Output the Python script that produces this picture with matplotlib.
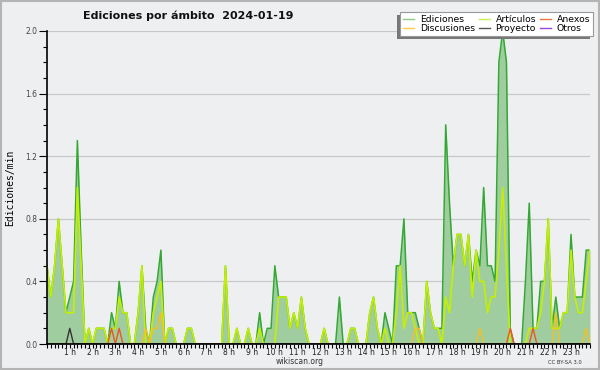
import matplotlib
matplotlib.use("Agg")
import matplotlib.pyplot as plt
import numpy as np
from matplotlib.patches import Rectangle
from matplotlib.ticker import MultipleLocator, FixedLocator

# ================== DATOS (ediciones/min, cada 10 minutos) ==================
ediciones = [
    0.5, 0.3, 0.5, 0.8, 0.5, 0.2, 0.3, 0.4, 1.3, 0.6, 0.0, 0.1,
    0.0, 0.1, 0.1, 0.1, 0.0, 0.2, 0.1, 0.4, 0.2, 0.2, 0.0, 0.0,
    0.2, 0.5, 0.1, 0.0, 0.3, 0.4, 0.6, 0.0, 0.1, 0.1, 0.0, 0.0,
    0.0, 0.1, 0.1, 0.0, 0.0, 0.0, 0.0, 0.0, 0.0, 0.0, 0.0, 0.5,
    0.0, 0.0, 0.1, 0.0, 0.0, 0.1, 0.0, 0.0, 0.2, 0.0, 0.1, 0.1,
    0.5, 0.3, 0.3, 0.3, 0.1, 0.2, 0.1, 0.3, 0.1, 0.0, 0.0, 0.0,
    0.0, 0.1, 0.0, 0.0, 0.0, 0.3, 0.0, 0.0, 0.1, 0.1, 0.0, 0.0,
    0.0, 0.2, 0.3, 0.1, 0.0, 0.2, 0.1, 0.0, 0.5, 0.5, 0.8, 0.2,
    0.2, 0.2, 0.1, 0.0, 0.4, 0.2, 0.1, 0.1, 0.1, 1.4, 0.9, 0.5,
    0.7, 0.7, 0.5, 0.7, 0.4, 0.6, 0.5, 1.0, 0.5, 0.5, 0.4, 1.8,
    2.0, 1.8, 0.1, 0.0, 0.0, 0.0, 0.4, 0.9, 0.1, 0.1, 0.4, 0.4,
    0.8, 0.1, 0.3, 0.1, 0.2, 0.2, 0.7, 0.3, 0.3, 0.3, 0.6, 0.6,
]
articulos = [
    0.5, 0.3, 0.5, 0.8, 0.5, 0.2, 0.2, 0.2, 1.0, 0.5, 0.0, 0.1,
    0.0, 0.1, 0.1, 0.1, 0.0, 0.1, 0.1, 0.3, 0.2, 0.2, 0.0, 0.0,
    0.2, 0.5, 0.0, 0.0, 0.2, 0.3, 0.4, 0.0, 0.1, 0.1, 0.0, 0.0,
    0.0, 0.1, 0.1, 0.0, 0.0, 0.0, 0.0, 0.0, 0.0, 0.0, 0.0, 0.5,
    0.0, 0.0, 0.1, 0.0, 0.0, 0.1, 0.0, 0.0, 0.1, 0.0, 0.0, 0.0,
    0.0, 0.3, 0.3, 0.3, 0.1, 0.2, 0.1, 0.3, 0.1, 0.0, 0.0, 0.0,
    0.0, 0.1, 0.0, 0.0, 0.0, 0.0, 0.0, 0.0, 0.1, 0.1, 0.0, 0.0,
    0.0, 0.2, 0.3, 0.1, 0.0, 0.1, 0.0, 0.0, 0.2, 0.5, 0.1, 0.2,
    0.2, 0.1, 0.0, 0.0, 0.4, 0.2, 0.1, 0.1, 0.0, 0.3, 0.2, 0.5,
    0.7, 0.7, 0.5, 0.7, 0.3, 0.6, 0.4, 0.4, 0.2, 0.3, 0.3, 0.6,
    1.0, 0.5, 0.0, 0.0, 0.0, 0.0, 0.0, 0.1, 0.1, 0.1, 0.2, 0.4,
    0.8, 0.1, 0.1, 0.1, 0.2, 0.2, 0.6, 0.3, 0.2, 0.2, 0.4, 0.6,
]
# series pequeñas: {indice: valor}
anexos_pts = {17: 0.1, 19: 0.1, 122: 0.1, 128: 0.1}
discusiones_pts = {26: 0.1, 28: 0.1, 29: 0.1, 30: 0.2, 97: 0.1, 98: 0.1,
                   114: 0.1, 134: 0.2, 142: 0.1}
proyecto_pts = {6: 0.1}
otros_pts = {}

horas = [f"{h} h" for h in range(1, 24)]
titulo = "Ediciones por ámbito  2024-01-19"
# ===========================================================================

n = len(ediciones)
t = np.arange(n) / 6.0


def serie(pts):
    s = np.zeros(n)
    for k, v in pts.items():
        s[k] = v
    return s


anexos = serie(anexos_pts)
discusiones = serie(discusiones_pts)
proyecto = serie(proyecto_pts)
otros = serie(otros_pts)

bg = '#eeeff1'
fig = plt.figure(figsize=(6, 3.7), dpi=100, facecolor=bg)
ax = fig.add_axes([47/600, 1 - 344/370, 543/600, 313/370])
ax.set_facecolor(bg)

# borde exterior
fig.patches.append(Rectangle((0.001, 0.002), 0.997, 0.995, transform=fig.transFigure,
                             fill=False, edgecolor='#b4b4b4', linewidth=1.5))

ax.grid(True, axis='y', color='#c8c8c8', linewidth=0.9)
ax.set_axisbelow(True)

ax.fill_between(t, ediciones, color='#9fcd9f', linewidth=0, zorder=2)
ax.plot(t, ediciones, color='#33a833', linewidth=1.1, zorder=3, label='Ediciones')
ax.plot(t, articulos, color='#c4f000', linewidth=1.2, zorder=3.2, label='Artículos')
ax.plot(t, anexos, color='#ee5522', linewidth=1.0, zorder=3.3, label='Anexos')
ax.plot(t, discusiones, color='#f5c020', linewidth=1.0, zorder=3.4, label='Discusiones')
ax.plot(t, proyecto, color='#333333', linewidth=1.0, zorder=3.5, label='Proyecto')
ax.plot(t, otros, color='#9933dd', linewidth=1.0, zorder=3.1, label='Otros')

ax.set_xlim(0, t[-1])
ax.set_ylim(0, 2.0)

for side in ['top', 'right']:
    ax.spines[side].set_visible(False)
for side in ['left', 'bottom']:
    ax.spines[side].set_color('black')
    ax.spines[side].set_linewidth(1.2)
    ax.spines[side].set_zorder(6)

ax.yaxis.set_major_locator(MultipleLocator(0.4))
ax.yaxis.set_minor_locator(MultipleLocator(0.1))
ax.yaxis.set_major_formatter(matplotlib.ticker.FormatStrFormatter('%.1f'))
ax.tick_params(axis='y', which='major', length=6, width=0.8, labelsize=5.5,
               labelcolor='#444444', pad=1)
ax.tick_params(axis='y', which='minor', length=3, width=0.8)

ax.xaxis.set_major_locator(FixedLocator(range(1, 24)))
ax.xaxis.set_minor_locator(MultipleLocator(1/6))
ax.set_xticklabels(horas)
ax.tick_params(axis='x', which='both', length=3, width=0.8, labelsize=5.5,
               labelcolor='#222222', pad=0)

ax.set_ylabel('Ediciones/min', family='DejaVu Sans Mono', fontsize=7, labelpad=7)

fig.text(188/600, 1 - 16/370, titulo, ha='center', va='center',
         fontsize=8, fontweight='bold', color='#111111')
fig.text(300/600, 1 - 362/370, 'wikiscan.org', ha='center', va='center',
         fontsize=5.5, color='#333333')
fig.text(565/600, 1 - 362/370, 'CC BY-SA 3.0', ha='center', va='center',
         fontsize=3.8, color='#333333')

orden = ['Ediciones', 'Discusiones', 'Artículos', 'Proyecto', 'Anexos', 'Otros']
colores_leg = {'Ediciones': '#88cc88', 'Artículos': '#ccee55', 'Anexos': '#ee7744',
               'Discusiones': '#ffcc44', 'Proyecto': '#555555', 'Otros': '#9944dd'}
handles = [plt.Line2D([], [], color=colores_leg[k], linewidth=1.0) for k in orden]
leg = ax.legend(handles, orden, ncol=3, loc='upper right',
                bbox_to_anchor=(593/600, 1 - 12/370), bbox_transform=fig.transFigure,
                borderaxespad=0, fontsize=6.7, frameon=True, fancybox=False,
                handlelength=1.2, handletextpad=0.6, columnspacing=0.4,
                labelspacing=0.05, borderpad=0.3)
leg.get_frame().set_edgecolor('#999999')
leg.get_frame().set_facecolor('white')
leg.get_frame().set_alpha(1)
leg.get_frame().set_linewidth(0.8)
leg.set_zorder(10)

# sombra del cuadro de leyenda (desplazada abajo a la izquierda)
fig.canvas.draw()
bb = leg.get_window_extent().transformed(fig.transFigure.inverted())
ax.add_patch(Rectangle((bb.x0 - 3/600, bb.y0 - 3/370), bb.width, bb.height,
                       transform=fig.transFigure, facecolor='#777777',
                       edgecolor='none', zorder=9, clip_on=False))

fig.savefig('out.png', dpi=100, facecolor=bg)
